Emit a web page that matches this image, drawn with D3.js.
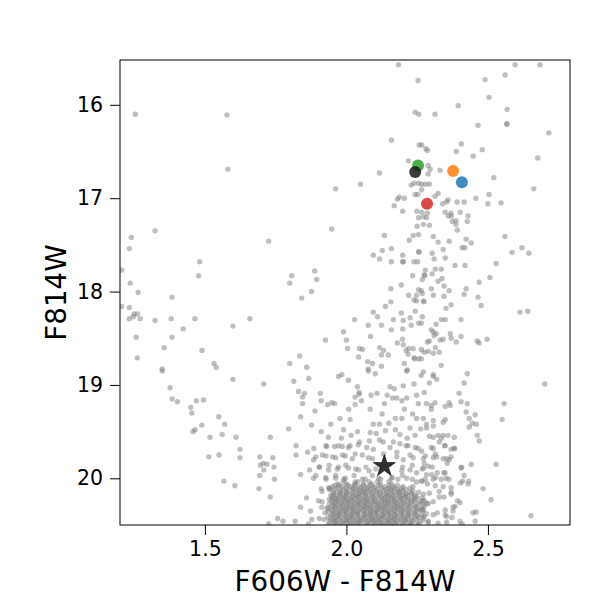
<!DOCTYPE html>
<html>
<head>
<meta charset="utf-8">
<script src="https://cdn.jsdelivr.net/npm/d3@7"></script>
<style>
  html, body { margin: 0; padding: 0; background: #fff; }
  svg { display: block; font-family: "DejaVu Sans", sans-serif; }
</style>
</head>
<body>
<svg id="chart" width="600" height="600"></svg>
<script>
// ---- data ----
const xTicks = [1.5, 2.0, 2.5];
const yTicks = [16, 17, 18, 19, 20];
const xLabel = "F606W - F814W";
const yLabel = "F814W";

// individually readable field stars [colour, magnitude]
const fieldStars = [
[1.254,16.10],[1.578,16.11],[1.581,16.69],
[2.184,15.57],[2.253,15.74],[2.243,16.08],[2.256,16.10],[2.159,16.38],[2.257,16.43],[2.219,16.60],[2.117,16.73],[2.050,16.85],[1.962,16.90],[2.229,16.86],[2.239,16.84],[2.255,16.84],[2.243,16.96],[2.252,16.96],[2.187,16.99],[2.180,17.01],[2.205,17.00],[2.169,17.08],[2.199,17.14],[2.249,17.14],
[2.596,15.57],[2.684,15.57],[2.561,15.68],[2.490,15.73],[2.504,15.92],[2.395,16.01],[2.568,16.05],[2.313,16.10],[2.465,16.22],[2.567,16.20],[2.567,16.21],[2.715,16.30],[2.266,16.43],[2.281,16.47],[2.286,16.49],[2.406,16.42],[2.388,16.50],[2.480,16.48],[2.448,16.55],[2.676,16.57],[2.289,16.65],[2.296,16.69],[2.331,16.70],[2.289,16.74],[2.521,16.78],[2.266,16.85],[2.279,16.85],[2.293,16.85],[2.266,16.91],[2.662,16.90],[2.324,16.95],[2.313,16.98],[2.504,16.96],[2.457,17.00],[2.359,17.02],[2.354,17.04],[2.340,17.06],[2.391,17.04],[2.416,17.04],[2.500,17.06],[2.546,17.05],[2.349,17.15],[2.369,17.16],[2.402,17.15],[2.266,17.15],[2.286,17.16],
[1.324,17.35],[1.240,17.42],[1.233,17.54],[1.725,17.46],[1.482,17.68],[1.478,17.83],[1.206,17.77],[1.236,17.91],[1.264,18.01],[1.384,18.06],[1.233,18.17],[1.206,18.16],[1.250,18.24],[1.262,18.24],[1.233,18.29],[1.247,18.27],[1.271,18.29],[1.324,18.31],[1.381,18.29],[1.465,18.29],[1.659,18.29],[1.423,18.40],[1.599,18.37],[1.257,18.49],[1.384,18.49],[1.356,18.60],[1.490,18.63],[1.261,18.71],[1.532,18.77],[1.540,18.81],[1.349,18.83],
[1.948,17.33],[2.255,17.21],[2.250,17.30],[2.255,17.39],[2.236,17.40],[2.222,17.45],[2.134,17.40],[2.159,17.54],[2.127,17.56],[2.095,17.61],[2.117,17.65],[2.199,17.61],[2.255,17.57],[2.257,17.58],[2.159,17.68],[2.199,17.68],[2.201,17.68],[2.239,17.68],[2.252,17.68],[1.807,17.83],[1.888,17.78],[1.800,17.91],[1.895,17.87],[1.877,18.00],[1.842,18.07],[2.234,17.83],[2.194,17.93],[2.157,17.97],[2.220,18.04],[2.248,18.04],[2.239,18.09],[2.248,18.10],[2.255,17.98],[2.157,18.11],[2.138,18.16],[2.243,18.21],[2.194,18.23],[2.095,18.22],[2.110,18.27],[2.029,18.30],[2.166,18.30],[2.201,18.31],[2.225,18.28],[2.255,18.34],[2.077,18.36],[2.124,18.36],[2.229,18.36],[2.159,18.41],[2.199,18.40],[1.990,18.43],[2.085,18.48],[1.926,18.52],[2.000,18.52],[2.004,18.61],[2.180,18.55],[2.198,18.51],[2.201,18.57],[2.046,18.61],[2.057,18.62],[2.117,18.60],[2.131,18.63],[2.148,18.68],[2.124,18.68],[2.211,18.63],[2.220,18.61],[2.236,18.61],[2.218,18.67],[2.239,18.71],[2.241,18.72],[2.255,18.72],[2.043,18.70],[2.075,18.75],[2.092,18.77],[1.835,18.69],[1.800,18.77],[1.860,18.81],[2.205,18.77],[2.124,18.80],[2.077,18.83],[2.215,18.84],
[2.272,17.20],[2.283,17.21],[2.360,17.19],[2.371,17.19],[2.430,17.19],[2.374,17.25],[2.387,17.24],[2.387,17.28],[2.427,17.25],[2.272,17.28],[2.293,17.29],[2.392,17.34],[2.560,17.41],[2.307,17.41],[2.423,17.44],[2.324,17.47],[2.363,17.46],[2.441,17.48],[2.409,17.53],[2.419,17.53],[2.342,17.55],[2.620,17.53],[2.585,17.58],[2.645,17.59],[2.303,17.59],[2.310,17.65],[2.349,17.64],[2.529,17.70],[2.384,17.72],[2.419,17.72],[2.279,17.77],[2.314,17.76],[2.335,17.76],[2.275,17.82],[2.277,17.83],[2.303,17.81],[2.507,17.85],[2.338,17.86],[2.268,17.87],[2.324,17.89],[2.469,17.90],[2.345,17.94],[2.423,17.97],[2.300,17.97],[2.363,17.99],[2.265,17.99],[2.268,18.02],[2.307,18.04],[2.345,18.05],[2.416,18.03],[2.465,18.06],[2.272,18.10],[2.274,18.11],[2.370,18.14],[2.476,18.15],[2.352,18.18],[2.613,18.22],[2.641,18.21],[2.268,18.27],[2.335,18.30],[2.349,18.30],[2.405,18.30],[2.265,18.34],[2.317,18.35],[2.300,18.41],[2.307,18.43],[2.317,18.45],[2.310,18.47],[2.367,18.45],[2.405,18.48],[2.370,18.50],[2.342,18.51],[2.331,18.52],[2.388,18.54],[2.286,18.54],[2.293,18.53],[2.462,18.53],[2.469,18.55],[2.497,18.51],[2.314,18.60],[2.265,18.62],[2.275,18.65],[2.289,18.64],[2.307,18.66],[2.328,18.65],[2.335,18.79],[2.265,18.72],
[1.349,18.85],[1.377,19.03],[1.599,18.94],[1.708,18.99],[1.384,19.15],[1.403,19.18],[1.470,19.17],[1.495,19.16],[1.450,19.24],[1.454,19.30],[1.549,19.34],[1.570,19.42],[1.489,19.43],[1.465,19.48],[1.458,19.50],[1.518,19.56],[1.561,19.53],[1.610,19.56],[1.624,19.69],[1.624,19.78],[1.514,19.77],[1.550,19.75],[1.694,19.77],[1.706,19.84],[1.719,19.85],[1.696,19.86],[1.708,19.91],[1.694,19.97],[1.567,20.03],[1.606,20.08],[1.691,20.11],[1.731,19.56],[1.731,20.20],[1.725,20.49],
[1.814,18.96],[1.867,18.93],[1.972,18.91],[1.984,18.89],[2.007,18.95],[2.039,19.02],[2.078,18.85],[2.102,18.88],[2.154,19.02],[2.169,19.04],[2.213,18.85],[2.201,19.01],[2.239,18.99],[1.831,19.07],[1.845,19.13],[1.852,19.09],[1.845,19.20],[1.908,19.09],[1.911,19.17],[1.934,19.21],[1.958,19.20],[1.949,19.19],[2.031,19.13],[2.045,19.08],[2.045,19.10],[2.053,19.17],[2.087,19.11],[2.108,19.09],[2.144,19.11],[2.163,19.14],[2.178,19.14],[2.196,19.17],[2.213,19.14],[2.248,19.11],[2.254,19.20],[2.134,19.20],[2.031,19.21],[2.008,19.26],[2.084,19.26],[2.126,19.31],[2.205,19.26],[2.234,19.31],[1.889,19.28],[1.838,19.34],[1.977,19.36],[2.013,19.37],[1.877,19.43],[1.945,19.42],[1.990,19.48],[2.039,19.50],[2.095,19.42],[2.117,19.42],[2.150,19.41],[2.173,19.36],[2.196,19.36],[2.225,19.46],[2.248,19.36],[1.796,19.47],[1.911,19.50],[1.936,19.56],[1.982,19.57],[2.017,19.54],[2.084,19.51],[2.105,19.52],[2.138,19.49],[2.173,19.48],[2.189,19.53],[2.215,19.57],[2.243,19.54],[1.928,19.65],[1.958,19.66],[1.985,19.66],[2.013,19.65],[2.046,19.61],[2.081,19.60],[2.117,19.59],[2.166,19.61],[2.211,19.65],[2.243,19.67],[1.822,19.65],[1.885,19.68],[1.863,19.72],[1.822,19.75],[1.740,19.78],[1.744,19.88],[1.884,19.80],[1.928,19.76],[1.962,19.78],[1.996,19.76],[2.031,19.74],[2.078,19.78],[2.095,19.69],[2.131,19.74],[2.178,19.72],[2.201,19.80],[2.236,19.78],[1.870,19.91],[1.905,19.88],[1.937,19.91],[1.972,19.88],[2.007,19.89],[2.043,19.91],[2.080,19.92],[2.196,19.92],[2.225,19.91],[2.248,19.94],[1.838,19.96],[1.746,20.01],[1.884,20.00],[1.928,20.01],[1.962,20.00],[1.996,20.00],[2.031,20.04],[2.066,20.01],[2.113,20.00],[2.159,20.00],[2.182,20.01],[2.213,20.00],[2.248,20.04],[1.911,20.11],[1.859,20.21],[1.901,20.24],[1.913,20.31],[1.838,20.31],[1.873,20.35],[1.757,20.43],[1.776,20.46],[1.819,20.46],[1.878,20.44],[1.921,20.44],[1.924,20.37],[1.866,20.49],[1.949,20.22],[1.942,20.11],
[2.427,18.88],[2.701,18.99],[2.416,18.98],[2.307,18.89],[2.307,18.91],[2.319,18.94],[2.293,18.98],[2.272,18.86],[2.264,18.90],[2.275,19.08],[2.398,19.09],[2.405,19.18],[2.427,19.20],[2.557,19.20],[2.550,19.37],[2.283,19.20],[2.300,19.22],[2.313,19.19],[2.300,19.26],[2.349,19.23],[2.363,19.19],[2.367,19.22],[2.423,19.29],[2.455,19.32],[2.434,19.36],[2.445,19.41],[2.459,19.42],[2.434,19.45],[2.349,19.37],[2.342,19.40],[2.272,19.36],[2.307,19.38],[2.283,19.42],[2.283,19.46],[2.307,19.44],[2.262,19.47],[2.293,19.55],[2.307,19.56],[2.324,19.54],[2.342,19.54],[2.359,19.54],[2.381,19.56],[2.462,19.54],[2.469,19.60],[2.328,19.61],[2.336,19.57],[2.349,19.65],[2.381,19.68],[2.370,19.69],[2.307,19.68],[2.266,19.71],[2.279,19.76],[2.314,19.74],[2.307,19.78],[2.342,19.79],[2.363,19.80],[2.370,19.77],[2.356,19.84],[2.529,19.85],[2.441,19.85],[2.405,19.89],[2.275,19.84],[2.272,19.89],[2.289,19.87],[2.321,19.94],[2.349,19.94],[2.416,19.97],[2.411,20.03],[2.430,20.06],[2.483,20.11],[2.511,20.23],[2.652,20.40],[2.402,20.26],[2.447,20.37],[2.458,20.36],[2.455,20.46],[2.409,20.49],[2.377,20.31],[2.377,20.35],[2.373,20.42],[2.349,20.39],[2.321,20.37],[2.354,20.47],[2.324,20.48],[2.289,20.47],[2.272,20.42],[2.283,20.38],[2.265,20.33],[2.289,20.27],[2.307,20.25],[2.275,20.24],[2.328,20.20],[2.345,20.20],[2.370,20.15],[2.370,20.10],[2.342,20.09],[2.314,20.08],[2.286,20.06],[2.265,20.03],[2.279,20.01],[2.307,20.01],[2.335,20.01],[2.352,20.00],[2.272,20.17],[2.293,20.16],[2.283,19.96],[2.301,19.96],
[1.930,19.66],[1.972,19.65],[2.007,19.67],[2.042,19.64],[2.072,19.67],[2.130,19.61],[2.154,19.67],[2.189,19.63],[2.218,19.65],[2.253,19.68],[2.300,19.67],[2.347,19.65],[2.382,19.68],[1.892,19.77],[1.915,19.75],[1.951,19.77],[1.986,19.75],[2.021,19.79],[2.056,19.75],[2.092,19.79],[2.178,19.77],[2.225,19.75],[2.272,19.79],[2.319,19.77],[2.354,19.79],[2.407,19.88],[1.904,19.88],[1.939,19.86],[1.968,19.90],[1.998,19.86],[2.033,19.90],[2.069,19.88],[2.104,19.90],[2.198,19.88],[2.233,19.86],[2.268,19.90],[2.303,19.88],[2.344,19.94],[1.892,19.97],[1.927,19.99],[1.962,19.97],[1.991,20.01],[2.027,19.97],[2.056,20.01],[2.092,19.97],[2.121,20.01],[2.162,19.99],[2.198,19.97],[2.233,20.01],[2.268,20.03],[2.315,19.99],[2.362,20.01],[2.403,20.05],[2.432,20.03],[1.914,20.14],[1.937,20.10],[2.328,20.14],[2.370,20.17],[2.393,20.24],[1.914,20.25],[1.932,20.32],[2.349,20.34],[2.384,20.30],[1.904,20.43],[2.354,20.41],[2.401,20.46],[2.289,20.46],[2.307,20.39],[2.272,20.34],[2.284,20.27],[2.268,20.21]
];

// the crowded main-sequence core: rows of [magnitude, colours...] estimated from the blob
const coreRows = [
[20.035,[1.99,2.04,2.08,2.11,2.15]],
[20.06, [1.97,2.00,2.03,2.06,2.09,2.12,2.16]],
[20.075,[1.96,1.975,2.005,2.03,2.06,2.085,2.115,2.15,2.18]],
[20.09, [1.95,1.985,2.015,2.045,2.075,2.10,2.135,2.165,2.20,2.235]],
[20.105,[1.97,2.0,2.025,2.05,2.07,2.095,2.125,2.15,2.17,2.195,2.225]],
[20.12, [1.94,1.96,1.99,2.02,2.035,2.06,2.085,2.11,2.14,2.155,2.18,2.21]],
[20.135,[1.98,2.005,2.04,2.06,2.08,2.105,2.13,2.16,2.185,2.20,2.235]],
[20.15, [1.955,1.975,2.00,2.025,2.05,2.07,2.095,2.12,2.145,2.17,2.19,2.225,2.255]],
[20.165,[1.955,1.98,2.0,2.02,2.045,2.065,2.09,2.115,2.14,2.16,2.185,2.21,2.23]],
[20.18, [1.945,1.965,1.99,2.01,2.035,2.055,2.08,2.105,2.13,2.15,2.175,2.20,2.215,2.24]],
[20.195,[1.95,1.975,1.995,2.025,2.04,2.07,2.095,2.12,2.145,2.165,2.19,2.21,2.245]],
[20.21, [1.96,1.98,2.00,2.02,2.045,2.065,2.09,2.115,2.135,2.16,2.185,2.205,2.23,2.25]],
[20.225,[1.94,1.965,1.99,2.01,2.03,2.055,2.075,2.10,2.13,2.15,2.17,2.195,2.22,2.24]],
[20.24, [1.95,1.97,1.995,2.015,2.04,2.06,2.08,2.10,2.125,2.145,2.17,2.19,2.215,2.24,2.27]],
[20.255,[1.96,1.98,2.005,2.025,2.045,2.07,2.09,2.11,2.135,2.155,2.175,2.2,2.23,2.26]],
[20.27, [1.94,1.96,1.985,2.005,2.03,2.05,2.07,2.095,2.115,2.14,2.16,2.18,2.205,2.225,2.255]],
[20.285,[1.95,1.97,1.99,2.015,2.04,2.06,2.08,2.105,2.125,2.145,2.17,2.19,2.215,2.24,2.27]],
[20.30, [1.955,1.975,2.00,2.02,2.04,2.065,2.085,2.11,2.13,2.15,2.175,2.195,2.22,2.245,2.275]],
[20.315,[1.935,1.96,1.985,2.005,2.025,2.05,2.07,2.09,2.115,2.135,2.16,2.18,2.2,2.225,2.25]],
[20.33, [1.945,1.965,1.99,2.01,2.03,2.055,2.075,2.10,2.12,2.14,2.165,2.185,2.21,2.235,2.26]],
[20.345,[1.95,1.975,1.995,2.02,2.04,2.06,2.085,2.105,2.125,2.15,2.17,2.195,2.215,2.245,2.27]],
[20.36, [1.935,1.96,1.98,2.00,2.025,2.045,2.07,2.09,2.11,2.135,2.155,2.18,2.20,2.225,2.25]],
[20.375,[1.955,1.975,2.0,2.02,2.04,2.065,2.085,2.105,2.13,2.15,2.17,2.195,2.22,2.24]],
[20.39, [1.95,1.97,1.99,2.015,2.035,2.06,2.08,2.10,2.125,2.145,2.17,2.19,2.215,2.24,2.265]],
[20.405,[1.945,1.97,1.995,2.015,2.04,2.065,2.085,2.11,2.13,2.155,2.175,2.2,2.22,2.25,2.275]],
[20.42, [1.935,1.96,1.98,2.005,2.025,2.05,2.07,2.09,2.115,2.135,2.16,2.18,2.205,2.23,2.255]],
[20.435,[1.955,1.975,2.0,2.02,2.045,2.065,2.09,2.105,2.125,2.15,2.17,2.195,2.215,2.245]],
[20.45, [1.945,1.965,1.99,2.01,2.035,2.055,2.08,2.10,2.12,2.145,2.165,2.19,2.21,2.235,2.27]],
[20.465,[1.94,1.96,1.985,2.005,2.03,2.05,2.075,2.095,2.115,2.14,2.16,2.18,2.21,2.23,2.26]],
[20.48, [1.955,1.975,2.00,2.02,2.04,2.065,2.085,2.11,2.13,2.15,2.175,2.20,2.225,2.25]],
[20.495,[1.935,1.965,1.99,2.02,2.045,2.075,2.1,2.125,2.15,2.17,2.2,2.23,2.255]],
[20.51, [1.95,1.98,2.01,2.04,2.07,2.10,2.13,2.16,2.19,2.22]]
];

// highlighted stars
const hlColour = [2.253, 2.243, 2.377, 2.408, 2.285];
const hlMag    = [16.65, 16.72, 16.71, 16.83, 17.06];
const hlFill   = ["#2ca02c", "#1a1a1a", "#ff7f0e", "#1f77b4", "#d62728"];

const targetStar = [2.134, 19.87];

// ---- layout ----
const svg = d3.select("#chart");
const L = 120, R = 570, T = 60, B = 525;
const x = d3.scaleLinear().domain([1.2, 2.79]).range([L, R]);
const y = d3.scaleLinear().domain([15.52, 20.5]).range([T, B]);

svg.append("defs").append("clipPath").attr("id", "clip")
  .append("rect").attr("x", L).attr("y", T).attr("width", R - L).attr("height", B - T);

const plot = svg.append("g").attr("clip-path", "url(#clip)");

const allField = fieldStars.concat(coreRows.flatMap(([m, cs]) => cs.map(c => [c, m])));

plot.selectAll("circle.field").data(allField).enter().append("circle")
  .attr("class", "field")
  .attr("cx", d => x(d[0])).attr("cy", d => y(d[1]))
  .attr("r", 2.7)
  .attr("fill", "#808080").attr("fill-opacity", 0.5);

const hl = hlColour.map((c, i) => ({c, m: hlMag[i], f: hlFill[i]}));
plot.selectAll("circle.hl").data(hl).enter().append("circle")
  .attr("class", "hl")
  .attr("cx", d => x(d.c)).attr("cy", d => y(d.m))
  .attr("r", 6)
  .attr("fill", d => d.f).attr("fill-opacity", 0.85);

plot.append("path")
  .attr("d", d3.symbol().type(d3.symbolStar).size(150)())
  .attr("transform", `translate(${x(targetStar[0])},${y(targetStar[1])})`)
  .attr("fill", "#1a1a1a").attr("fill-opacity", 0.9)
  .attr("stroke", "#000").attr("stroke-width", 0.6);

// frame
svg.append("rect").attr("x", L).attr("y", T).attr("width", R - L).attr("height", B - T)
  .attr("fill", "none").attr("stroke", "#000").attr("stroke-width", 1);

// axes
const xAxis = svg.append("g").attr("transform", `translate(0,${B})`)
  .call(d3.axisBottom(x).tickValues(xTicks).tickFormat(d3.format(".1f")).tickSize(10).tickPadding(6));
const yAxis = svg.append("g").attr("transform", `translate(${L},0)`)
  .call(d3.axisLeft(y).tickValues(yTicks).tickFormat(d3.format("d")).tickSize(10).tickPadding(7));
[xAxis, yAxis].forEach(a => {
  a.select(".domain").remove();
  a.selectAll("line").attr("stroke", "#000").attr("stroke-width", 1);
  a.selectAll("text").attr("font-family", "DejaVu Sans").attr("font-size", 20.5).attr("fill", "#000");
});

svg.append("text").attr("x", (L + R) / 2).attr("y", 591)
  .attr("text-anchor", "middle").attr("font-size", 27.8).attr("fill", "#000")
  .text(xLabel);
svg.append("text").attr("transform", `translate(66,${(T + B) / 2}) rotate(-90)`)
  .attr("text-anchor", "middle").attr("font-size", 27.8).attr("fill", "#000")
  .text(yLabel);
</script>
</body>
</html>
